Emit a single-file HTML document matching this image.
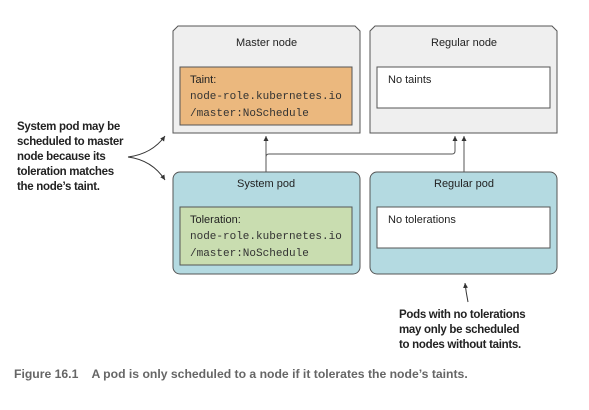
<!DOCTYPE html>
<html><head><style>
body{margin:0;width:589px;height:410px;background:#fff;position:relative;overflow:hidden;font-family:"Liberation Sans",sans-serif;}
.a{position:absolute;box-sizing:border-box;}
.lbl{position:absolute;font-size:11px;color:#222;white-space:nowrap;}
.mono{font-family:"Liberation Mono",monospace;font-size:11px;color:#333;}
.b{position:absolute;font-weight:bold;font-size:11.5px;letter-spacing:-0.3px;line-height:15px;color:#222;}
</style></head><body>
<svg class="a" style="left:0;top:0" width="589" height="410">
 <defs><marker id="ar" markerWidth="6" markerHeight="6" refX="5" refY="3" orient="auto"><path d="M0,0.5 L5,3 L0,5.5Z" fill="#333"/></marker></defs>
 <path d="M173,133 V31 L178,26 H355 L360,31 V133 Z" fill="#efefef" stroke="#555" stroke-width="1"/>
 <path d="M370,133 V31 L375,26 H552 L557,31 V133 Z" fill="#efefef" stroke="#555" stroke-width="1"/>
 <rect x="173" y="172" width="187" height="102" rx="7" fill="#b4dae1" stroke="#555"/>
 <rect x="370" y="172" width="187" height="102" rx="7" fill="#b4dae1" stroke="#555"/>
 <rect x="180" y="67" width="172" height="58" fill="#ebb87e" stroke="#555"/>
 <rect x="377" y="67" width="173" height="41" fill="#fff" stroke="#555"/>
 <rect x="180" y="207" width="172" height="58" fill="#c9ddb0" stroke="#555"/>
 <rect x="377" y="207" width="173" height="41" fill="#fff" stroke="#555"/>
 <path d="M266,172 V136" stroke="#555" fill="none" marker-end="url(#ar)"/>
 <path d="M266,158 V157 Q266,154 269,154 H452 Q455,154 455,151 V136" stroke="#555" fill="none" marker-end="url(#ar)"/>
 <path d="M464,172 V136" stroke="#555" fill="none" marker-end="url(#ar)"/>
 <path d="M128,157 Q152,154 165,136" stroke="#333" fill="none" marker-end="url(#ar)"/>
 <path d="M128,157 Q152,160 165,180" stroke="#333" fill="none" marker-end="url(#ar)"/>
 <path d="M468,302 Q466,292 465,283" stroke="#333" fill="none" marker-end="url(#ar)"/>
</svg>
<div class="lbl" style="left:236px;top:37px">Master node</div>
<div class="lbl" style="left:431px;top:37px">Regular node</div>
<div class="lbl" style="left:190px;top:74px">Taint:</div>
<div class="lbl mono" style="left:190px;top:91px">node-role.kubernetes.io</div>
<div class="lbl mono" style="left:190px;top:108px">/master:NoSchedule</div>
<div class="lbl" style="left:388px;top:74px">No taints</div>
<div class="lbl" style="left:237px;top:178px">System pod</div>
<div class="lbl" style="left:434px;top:178px">Regular pod</div>
<div class="lbl" style="left:190px;top:214px">Toleration:</div>
<div class="lbl mono" style="left:190px;top:231px">node-role.kubernetes.io</div>
<div class="lbl mono" style="left:190px;top:248px">/master:NoSchedule</div>
<div class="lbl" style="left:388px;top:214px">No tolerations</div>
<div class="b" style="left:17px;top:120px">System pod may be<br>scheduled to master<br>node because its<br>toleration matches<br>the node’s taint.</div>
<div class="b" style="left:399px;top:308px">Pods with no tolerations<br>may only be scheduled<br>to nodes without taints.</div>
<div class="a" style="left:14px;top:367px;font-size:12.2px;font-weight:bold;color:#666;white-space:nowrap">Figure 16.1&nbsp;&nbsp;&nbsp; A pod is only scheduled to a node if it tolerates the node’s taints.</div>
</body></html>
